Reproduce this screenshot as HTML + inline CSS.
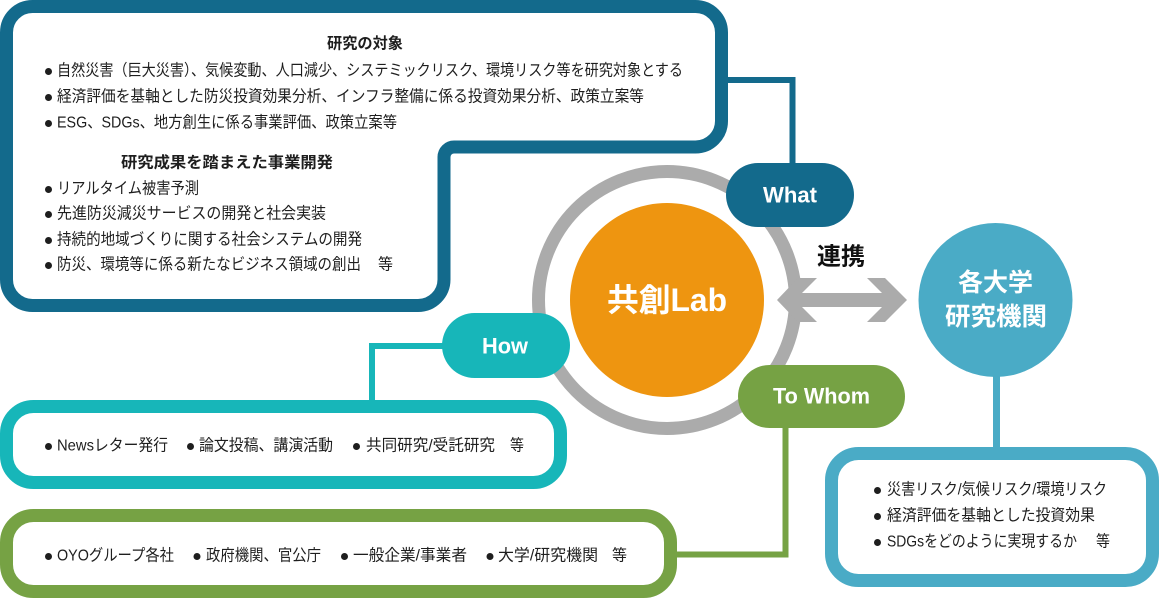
<!DOCTYPE html>
<html><head><meta charset="utf-8">
<style>
html,body{margin:0;padding:0;background:#fff;}
svg{display:block;}
text{font-family:"Liberation Sans","Noto Sans CJK JP",sans-serif;}
.b{font-size:16px;fill:#1e1e1e;}
.hd{font-size:15.5px;font-weight:bold;fill:#1e1e1e;}
.pl{font-size:22px;font-weight:bold;fill:#fff;}
</style></head>
<body>
<svg width="1160" height="600" viewBox="0 0 1160 600" xmlns="http://www.w3.org/2000/svg">
<!-- ring & center -->
<circle cx="667" cy="300" r="128.5" fill="none" stroke="#ababab" stroke-width="13"/>
<circle cx="667" cy="300" r="97" fill="#ee9510"/>
<text x="607" y="300" dominant-baseline="central" font-size="32" font-weight="bold" fill="#fff" textLength="120" lengthAdjust="spacingAndGlyphs">共創Lab</text>

<!-- connectors -->
<path d="M728 80 H792.5 V170" fill="none" stroke="#136a8c" stroke-width="6"/>
<path d="M445 346 H372 V402" fill="none" stroke="#17b6b9" stroke-width="6"/>
<path d="M785.5 425 V554.5 H672" fill="none" stroke="#76a244" stroke-width="6"/>
<path d="M996.5 370 V450" fill="none" stroke="#4aabc6" stroke-width="7"/>

<!-- top box -->
<path d="M32.5 6.5 H695.5 A26 26 0 0 1 721.5 32.5 V121 A26 26 0 0 1 695.5 147 H454 A10 10 0 0 0 444 157 V279.5 A26 26 0 0 1 418 305.5 H32.5 A26 26 0 0 1 6.5 279.5 V32.5 A26 26 0 0 1 32.5 6.5 Z" fill="#fff" stroke="#136a8c" stroke-width="13"/>
<text class="hd" x="327" y="44" dominant-baseline="central" textLength="76" lengthAdjust="spacingAndGlyphs">研究の対象</text>
<g fill="#1e1e1e">
<circle cx="48.5" cy="71.5" r="3.5"/><circle cx="48.5" cy="97.5" r="3.5"/><circle cx="48.5" cy="123.5" r="3.5"/>
<circle cx="48.5" cy="189.5" r="3.5"/><circle cx="48.5" cy="214.5" r="3.5"/><circle cx="48.5" cy="240.5" r="3.5"/><circle cx="48.5" cy="265.5" r="3.5"/>
</g>
<text class="b" x="57" y="71" dominant-baseline="central" textLength="626" lengthAdjust="spacingAndGlyphs">自然災害（巨大災害）、気候変動、人口減少、システミックリスク、環境リスク等を研究対象とする</text>
<text class="b" x="57" y="97" dominant-baseline="central" textLength="587" lengthAdjust="spacingAndGlyphs">経済評価を基軸とした防災投資効果分析、インフラ整備に係る投資効果分析、政策立案等</text>
<text class="b" x="57" y="123" dominant-baseline="central" textLength="340" lengthAdjust="spacingAndGlyphs">ESG、SDGs、地方創生に係る事業評価、政策立案等</text>
<text class="hd" x="121" y="163" dominant-baseline="central" textLength="212" lengthAdjust="spacingAndGlyphs">研究成果を踏まえた事業開発</text>
<text class="b" x="57" y="189" dominant-baseline="central" textLength="142" lengthAdjust="spacingAndGlyphs">リアルタイム被害予測</text>
<text class="b" x="57" y="214" dominant-baseline="central" textLength="269" lengthAdjust="spacingAndGlyphs">先進防災減災サービスの開発と社会実装</text>
<text class="b" x="57" y="240" dominant-baseline="central" textLength="305" lengthAdjust="spacingAndGlyphs">持続的地域づくりに関する社会システムの開発</text>
<text class="b" x="57" y="265" dominant-baseline="central" textLength="304" lengthAdjust="spacingAndGlyphs">防災、環境等に係る新たなビジネス領域の創出</text>
<text class="b" x="378" y="265" dominant-baseline="central" textLength="15" lengthAdjust="spacingAndGlyphs">等</text>

<!-- How box -->
<rect x="6.5" y="406.5" width="554" height="76" rx="27" ry="27" fill="#fff" stroke="#17b6b9" stroke-width="13"/>
<g fill="#1e1e1e"><circle cx="48.5" cy="446.5" r="3.5"/><circle cx="190.5" cy="446.5" r="3.5"/><circle cx="356.5" cy="446.5" r="3.5"/></g>
<text class="b" x="57" y="446" dominant-baseline="central" textLength="111" lengthAdjust="spacingAndGlyphs">Newsレター発行</text>
<text class="b" x="199" y="446" dominant-baseline="central" textLength="134" lengthAdjust="spacingAndGlyphs">論文投稿、講演活動</text>
<text class="b" x="366" y="446" dominant-baseline="central" textLength="129" lengthAdjust="spacingAndGlyphs">共同研究/受託研究</text>
<text class="b" x="510" y="446" dominant-baseline="central" textLength="14" lengthAdjust="spacingAndGlyphs">等</text>

<!-- green box -->
<rect x="6.5" y="515.5" width="664" height="76" rx="27" ry="27" fill="#fff" stroke="#76a244" stroke-width="13"/>
<g fill="#1e1e1e"><circle cx="48.5" cy="556.5" r="3.5"/><circle cx="197" cy="556.5" r="3.5"/><circle cx="344.5" cy="556.5" r="3.5"/><circle cx="490" cy="556.5" r="3.5"/></g>
<text class="b" x="57" y="556" dominant-baseline="central" textLength="117" lengthAdjust="spacingAndGlyphs">OYOグループ各社</text>
<text class="b" x="206" y="556" dominant-baseline="central" textLength="115" lengthAdjust="spacingAndGlyphs">政府機関、官公庁</text>
<text class="b" x="353" y="556" dominant-baseline="central" textLength="114" lengthAdjust="spacingAndGlyphs">一般企業/事業者</text>
<text class="b" x="498" y="556" dominant-baseline="central" textLength="100" lengthAdjust="spacingAndGlyphs">大学/研究機関</text>
<text class="b" x="612" y="556" dominant-baseline="central" textLength="15" lengthAdjust="spacingAndGlyphs">等</text>

<!-- right box -->
<rect x="831.5" y="453.5" width="321" height="127" rx="27" ry="27" fill="#fff" stroke="#4aabc6" stroke-width="13"/>
<g fill="#1e1e1e"><circle cx="877.5" cy="490.5" r="3.5"/><circle cx="877.5" cy="516.5" r="3.5"/><circle cx="877.5" cy="542.5" r="3.5"/></g>
<text class="b" x="887" y="490" dominant-baseline="central" textLength="220" lengthAdjust="spacingAndGlyphs">災害リスク/気候リスク/環境リスク</text>
<text class="b" x="887" y="516" dominant-baseline="central" textLength="208" lengthAdjust="spacingAndGlyphs">経済評価を基軸とした投資効果</text>
<text class="b" x="887" y="542" dominant-baseline="central" textLength="190" lengthAdjust="spacingAndGlyphs">SDGsをどのように実現するか</text>
<text class="b" x="1096" y="542" dominant-baseline="central" textLength="14" lengthAdjust="spacingAndGlyphs">等</text>

<!-- blue circle -->
<circle cx="995.5" cy="300" r="77" fill="#4aabc6"/>
<text x="958" y="283" dominant-baseline="central" font-size="25" font-weight="bold" fill="#fff" textLength="75" lengthAdjust="spacingAndGlyphs">各大学</text>
<text x="945" y="317" dominant-baseline="central" font-size="25" font-weight="bold" fill="#fff" textLength="102" lengthAdjust="spacingAndGlyphs">研究機関</text>

<!-- arrow -->
<polygon points="777,300 798,278 817,278 802,293 882,293 867,278 885,278 907,300 885,322 867,322 882,307 802,307 817,322 798,322" fill="#ababab"/>
<text x="817" y="257" dominant-baseline="central" font-size="24" font-weight="bold" fill="#111" textLength="48" lengthAdjust="spacingAndGlyphs">連携</text>

<!-- pills -->
<rect x="726" y="163" width="128" height="64" rx="32" ry="32" fill="#136a8c"/>
<text class="pl" x="763" y="195" dominant-baseline="central" textLength="54" lengthAdjust="spacingAndGlyphs">What</text>
<rect x="442" y="313" width="128" height="65" rx="32.5" ry="32.5" fill="#17b6b9"/>
<text class="pl" x="482" y="346" dominant-baseline="central" textLength="46" lengthAdjust="spacingAndGlyphs">How</text>
<rect x="738" y="365" width="167" height="63" rx="31.5" ry="31.5" fill="#76a244"/>
<text class="pl" x="773" y="396" dominant-baseline="central" textLength="97" lengthAdjust="spacingAndGlyphs">To Whom</text>
</svg>
</body></html>
